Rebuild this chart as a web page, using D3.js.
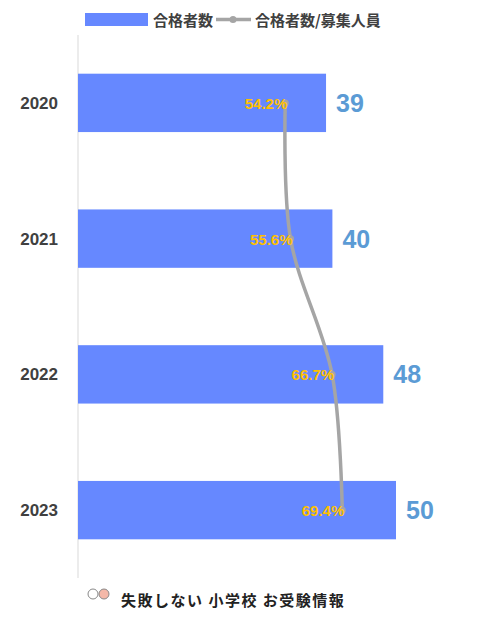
<!DOCTYPE html>
<html><head><meta charset="utf-8">
<script src="https://cdn.jsdelivr.net/npm/d3@7"></script>
<style>body{margin:0;background:#fff;font-family:"Noto Sans CJK JP","Noto Sans",sans-serif;}</style>
</head><body>
<svg id="chart" width="481" height="622"></svg>
<script>
var years = ["2020", "2021", "2022", "2023"];
var passed = [39, 40, 48, 50];
var ratio = [54.2, 55.6, 66.7, 69.4];

var svg = d3.select("#chart");

var x = d3.scaleLinear().domain([0, 50]).range([78, 396]);
var xr = d3.scaleLinear().domain([0, 100]).range([82, 457]);
var y = d3.scaleBand().domain(years).range([35, 578]).paddingInner(0.57).paddingOuter(0.285);

svg.append("line").attr("x1", 78).attr("x2", 78).attr("y1", 35).attr("y2", 578)
    .attr("stroke", "#d9d9d9");

svg.selectAll("rect.bar").data(years).enter().append("rect")
    .classed("bar", true)
    .attr("x", x(0))
    .attr("y", function(d) { return y(d); })
    .attr("width", function(d, i) { return x(passed[i]) - x(0); })
    .attr("height", y.bandwidth())
    .attr("fill", "#6688ff");

svg.selectAll("text.year").data(years).enter().append("text")
    .attr("x", 58).attr("y", function(d) { return y(d) + y.bandwidth() / 2 + 6; })
    .attr("text-anchor", "end").attr("font-size", 17).attr("font-weight", "bold")
    .attr("fill", "#404040").attr("font-family", "Liberation Sans, Arial")
    .text(function(d) { return d; });

svg.selectAll("text.val").data(years).enter().append("text")
    .attr("x", function(d, i) { return x(passed[i]) + 10; })
    .attr("y", function(d) { return y(d) + y.bandwidth() / 2 + 9; })
    .attr("font-size", 25).attr("font-weight", "bold").attr("fill", "#5b9bd5")
    .attr("font-family", "Liberation Sans, Arial")
    .text(function(d, i) { return passed[i]; });

var pts = years.map(function(d, i) { return [xr(ratio[i]), y(d) + y.bandwidth() / 2]; });

svg.append("path").datum(pts)
    .attr("d", d3.line().curve(d3.curveCatmullRom))
    .attr("fill", "none").attr("stroke", "#a5a5a5").attr("stroke-width", 3.5);

svg.selectAll("circle.pt").data(pts).enter().append("circle")
    .attr("cx", function(d) { return d[0]; }).attr("cy", function(d) { return d[1]; })
    .attr("r", 3.5).attr("fill", "#a5a5a5");

svg.selectAll("text.pct").data(pts).enter().append("text")
    .attr("x", function(d) { return d[0] + 2; }).attr("y", function(d) { return d[1] + 6; })
    .attr("text-anchor", "end").attr("font-size", 15).attr("font-weight", "bold")
    .attr("fill", "#ffc000").attr("font-family", "Liberation Sans, Arial")
    .text(function(d, i) { return ratio[i].toFixed(1) + "%"; });

// legend
var lg = svg.append("g");
lg.append("rect").attr("x", 85).attr("y", 13).attr("width", 63).attr("height", 13).attr("fill", "#6688ff");
lg.append("text").attr("x", 153).attr("y", 26).attr("font-size", 15).attr("font-weight", "bold")
    .attr("fill", "#404040").text("合格者数");
lg.append("line").attr("x1", 216).attr("x2", 251).attr("y1", 19.5).attr("y2", 19.5)
    .attr("stroke", "#a5a5a5").attr("stroke-width", 3.5);
lg.append("circle").attr("cx", 233).attr("cy", 19.5).attr("r", 3.5).attr("fill", "#a5a5a5");
lg.append("text").attr("x", 255).attr("y", 26).attr("font-size", 15).attr("font-weight", "bold")
    .attr("fill", "#404040").text("合格者数/募集人員");

// footer
var ft = svg.append("g");
ft.append("circle").attr("cx", 93).attr("cy", 594).attr("r", 5).attr("fill", "none").attr("stroke", "#888");
ft.append("circle").attr("cx", 104).attr("cy", 594).attr("r", 5).attr("fill", "#f4b8a8").attr("stroke", "#888");
ft.append("text").attr("x", 121).attr("y", 606).attr("font-size", 15).attr("font-weight", "bold")
    .attr("fill", "#222").attr("letter-spacing", 1.5).text("失敗しない 小学校 お受験情報");
</script>
</body></html>
